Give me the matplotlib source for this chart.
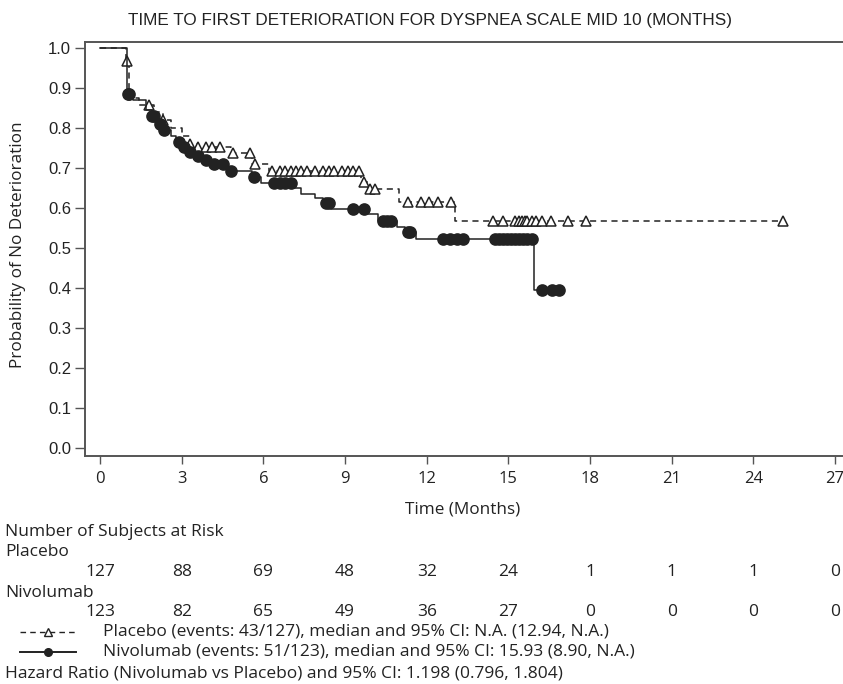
import numpy as np
import matplotlib
matplotlib.use("Agg")
from matplotlib import pyplot as plt
from matplotlib.lines import Line2D
from matplotlib.transforms import blended_transform_factory

# Kaplan-Meier steps: (time of drop, survival after drop)
pbo_t = [0, 0.97, 1.05, 1.45, 2.0, 2.3, 2.6, 3.0, 3.3, 3.6, 4.8, 5.6, 6.2, 9.6, 9.85, 11.0, 13.05]
pbo_s = [1.0, 0.968, 0.875, 0.858, 0.84, 0.82, 0.80, 0.78, 0.76, 0.752, 0.737, 0.71, 0.693, 0.665, 0.647,
         0.615, 0.567]
pbo_end = 25.1
pbo_cens = [1.0, 1.8, 2.3, 3.3, 3.6, 3.9, 4.1, 4.4, 4.9, 5.5, 5.7, 6.3, 6.6, 6.8, 7.0, 7.2, 7.4, 7.6, 7.9,
            8.2, 8.4, 8.6, 8.9, 9.1, 9.3, 9.5, 9.7, 9.9, 10.1, 11.3, 11.8, 12.1, 12.4, 12.9, 14.45, 14.8,
            15.25, 15.4, 15.5, 15.6, 15.7, 15.85, 16.0, 16.25, 16.55, 17.2, 17.85, 25.1]

niv_t = [0, 1.0, 1.2, 1.7, 1.9, 2.1, 2.3, 2.6, 2.8, 3.0, 3.3, 3.6, 3.9, 4.2, 4.6, 4.8, 5.6, 5.9, 7.1, 7.4,
         7.9, 8.2, 8.5, 9.8, 10.2, 10.9, 11.2, 11.6, 15.93]
niv_s = [1.0, 0.885, 0.87, 0.845, 0.83, 0.81, 0.795, 0.78, 0.765, 0.752, 0.74, 0.73, 0.72, 0.71, 0.70,
         0.692, 0.678, 0.662, 0.65, 0.635, 0.625, 0.612, 0.598, 0.585, 0.567, 0.553, 0.54, 0.522, 0.395]
niv_end = 16.9
niv_cens = [1.03, 1.07, 1.9, 2.0, 2.2, 2.35, 2.9, 3.1, 3.3, 3.6, 3.9, 4.2, 4.5, 4.8, 5.65, 6.4, 6.6, 6.8,
            7.0, 8.3, 8.4, 9.3, 9.7, 10.4, 10.55, 10.7, 11.3, 11.4, 12.6, 12.85, 13.1, 13.35, 14.5, 14.65,
            14.8, 14.95, 15.1, 15.25, 15.4, 15.55, 15.7, 15.85, 16.25, 16.6, 16.85]

x_ticks = [0, 3, 6, 9, 12, 15, 18, 21, 24, 27]
risk_pbo = [127, 88, 69, 48, 32, 24, 1, 1, 1, 0]
risk_niv = [123, 82, 65, 49, 36, 27, 0, 0, 0, 0]

title = "TIME TO FIRST DETERIORATION FOR DYSPNEA SCALE MID 10 (MONTHS)"
leg_pbo = "Placebo (events: 43/127), median and 95% CI: N.A. (12.94, N.A.)"
leg_niv = "Nivolumab (events: 51/123), median and 95% CI: 15.93 (8.90, N.A.)"
hr_text = "Hazard Ratio (Nivolumab vs Placebo) and 95% CI: 1.198 (0.796, 1.804)"

W, H = 843, 684
FONT = "Open Sans"
INK = "#222222"


def fx(px):
    return px / W


def fy(py):
    return 1 - py / H


def surv_at(times, surv, pts):
    idx = np.searchsorted(times, pts, side="right") - 1
    return np.asarray(surv)[idx]


fig = plt.figure(figsize=(W / 100, H / 100), dpi=100)
ax = fig.add_axes([fx(85), fy(456), fx(843 - 85), (456 - 42) / H])

for t, s, end, cens, ls, mk, mfc, ms in [
        (pbo_t, pbo_s, pbo_end, pbo_cens, (0, (4, 3)), "^", "white", 7.5),
        (niv_t, niv_s, niv_end, niv_cens, "-", "o", INK, 8)]:
    tt = list(t) + [end]
    ss = list(s) + [s[-1]]
    ax.step(tt, ss, where="post", color=INK, lw=1.1, linestyle=ls)
    ax.plot(cens, surv_at(t, s, cens), linestyle="none", marker=mk, ms=ms,
            mfc=mfc, mec=INK, mew=1.1)

ax.set_xlim(-0.551, 27.29)
ax.set_ylim(-0.02, 1.015)
ax.set_xticks(x_ticks)
ax.set_yticks(np.round(np.arange(0, 1.01, 0.1), 1))
ax.set_yticklabels([f"{v:.1f}" for v in np.arange(0, 1.01, 0.1)])
ax.spines["right"].set_visible(False)
for sp in ["left", "bottom", "top"]:
    ax.spines[sp].set_color("#555555")
    ax.spines[sp].set_linewidth(1.4)
ax.tick_params(direction="out", width=1, color="#555555", labelsize=12, labelcolor=INK)
ax.tick_params(axis="x", length=6, pad=5)
ax.tick_params(axis="y", length=7, pad=3)
for lab in ax.get_xticklabels():
    lab.set_fontfamily(FONT)
for lab in ax.get_yticklabels():
    lab.set_fontfamily("Liberation Sans")

fig.text(fx(430), fy(21), title, ha="center", va="center", fontsize=12.3,
         family="Liberation Sans", color=INK)
fig.text(fx(18), fy(245), "Probability of No Deterioration", rotation=90, ha="center",
         va="center", fontsize=12.3, family=FONT, color=INK)
fig.text(fx(463), fy(510), "Time (Months)", ha="center", va="center", fontsize=12.3,
         family=FONT, color=INK)

txt = dict(fontsize=12.5, family=FONT, color=INK, va="center")
fig.text(fx(5), fy(532), "Number of Subjects at Risk", ha="left", **txt)
fig.text(fx(5), fy(552), "Placebo", ha="left", **txt)
fig.text(fx(5), fy(593), "Nivolumab", ha="left", **txt)

tr = blended_transform_factory(ax.transData, fig.transFigure)
for xv, a, b in zip(x_ticks, risk_pbo, risk_niv):
    fig.text(xv, fy(572), str(a), ha="center", transform=tr, **txt)
    fig.text(xv, fy(612), str(b), ha="center", transform=tr, **txt)

# legend samples
fig.add_artist(Line2D([fx(20), fx(76)], [fy(632)] * 2, transform=fig.transFigure,
                      color=INK, lw=1.0, linestyle=(0, (4, 3))))
fig.add_artist(Line2D([fx(48)], [fy(632)], transform=fig.transFigure, marker="^",
                      ms=5.5, mfc="white", mec=INK, mew=1.0))
fig.add_artist(Line2D([fx(20), fx(76)], [fy(652)] * 2, transform=fig.transFigure,
                      color=INK, lw=1.4))
fig.add_artist(Line2D([fx(48)], [fy(652)], transform=fig.transFigure, marker="o",
                      ms=5.5, mfc=INK, mec=INK))
fig.text(fx(103), fy(632), leg_pbo, ha="left", **txt)
fig.text(fx(103), fy(652), leg_niv, ha="left", **txt)
fig.text(fx(5), fy(673), hr_text, ha="left", **txt)

fig.savefig("out.png", dpi=100)
